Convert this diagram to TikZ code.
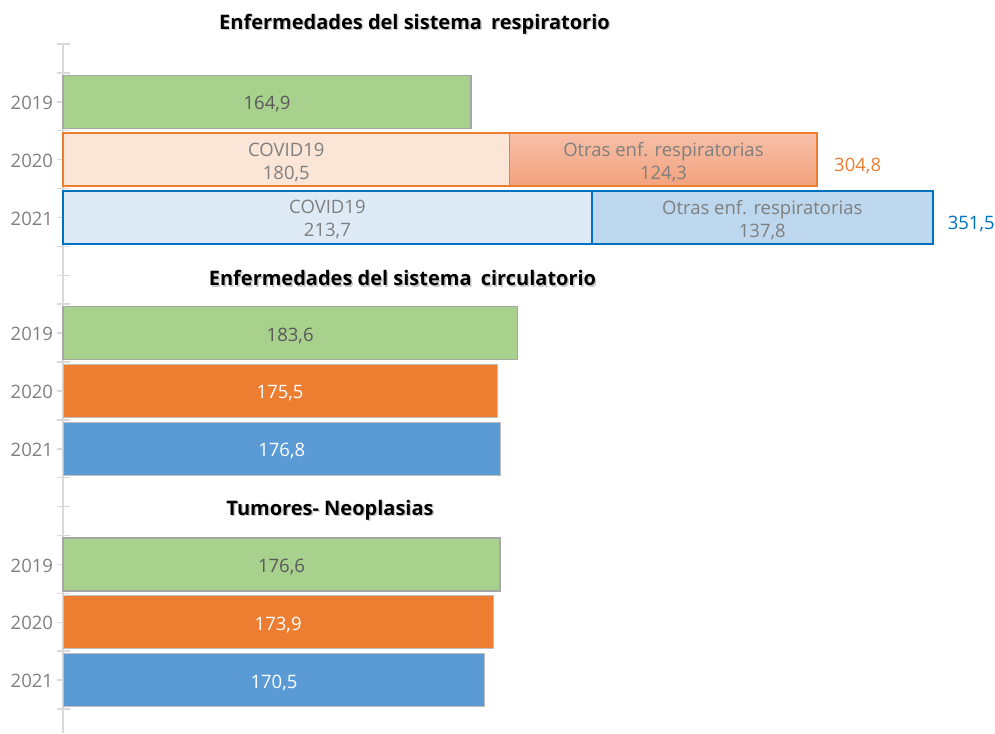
\documentclass[tikz,border=0pt]{standalone}
\usepackage{fontspec}
\setmainfont{Open Sans}
\definecolor{cgreen}{HTML}{A9D18E}
\definecolor{corange}{HTML}{ED7D31}
\definecolor{cblue}{HTML}{5B9BD5}
\definecolor{lorange}{HTML}{FBE5D6}
\definecolor{lblue}{HTML}{DEEBF7}
\definecolor{mblue}{HTML}{BDD7EE}
\definecolor{dblue}{HTML}{0070C0}
\definecolor{salmontop}{HTML}{F6BFA8}
\definecolor{salmonbot}{HTML}{F3A27D}
\definecolor{axisgray}{HTML}{D9D9D9}
\definecolor{labgray}{HTML}{7F7F7F}
\definecolor{valgray}{HTML}{595959}
\definecolor{bargray}{HTML}{A6A6A6}
\definecolor{thingray}{HTML}{BFBFBF}
\begin{document}
\begin{tikzpicture}[x=1pt,y=-1pt,
  txt/.style={font=\fontsize{18.5}{23}\selectfont,inner sep=0pt,outer sep=0pt},
  bar/.style={rectangle,anchor=west,minimum height=53pt,inner sep=0pt,outer sep=0pt},
  greenbar/.style={bar,fill=cgreen,draw=bargray,line width=1.5pt},
  orangebar/.style={bar,fill=corange,draw=thingray,line width=1pt},
  bluebar/.style={bar,fill=cblue,draw=thingray,line width=1pt},
  covido/.style={bar,fill=lorange,draw=corange,line width=1.5pt},
  otraso/.style={bar,top color=salmontop,bottom color=salmonbot,draw=corange,line width=1.5pt},
  covidb/.style={bar,fill=lblue,draw=dblue,line width=1.5pt},
  otrasb/.style={bar,fill=mblue,draw=dblue,line width=1.5pt},
  darkval/.style={txt,text=valgray},
  whiteval/.style={txt,text=white},
  grayval/.style={txt,text=labgray,align=center},
  yearlab/.style={txt,anchor=east,text=labgray},
  title/.style={font=\fontsize{20}{24}\selectfont\bfseries,inner sep=0pt},
  shadowt/.style={title,text=black!20},
  axisline/.style={draw=axisgray,line width=1.8pt},
  tickline/.style={draw=axisgray,line width=1.5pt}
]
\useasboundingbox (0,0) rectangle (995,733);
% axis
\coordinate (axtop) at (63,44);
\coordinate (axbot) at (63,733);
\draw[axisline] (axtop) -- (axbot);
\foreach \i in {0,...,23}{
  \draw[tickline] (57,{44+28.913*\i}) -- (70,{44+28.913*\i});
}
% titles
\node[shadowt] at (416,25.5) {Enfermedades del sistema\hspace{0.2em} respiratorio};
\node[title] (t1) at (414.5,24) {Enfermedades del sistema\hspace{0.2em} respiratorio};
\node[shadowt] at (404,279.5) {Enfermedades del sistema\hspace{0.2em} circulatorio};
\node[title] (t2) at (402.5,278) {Enfermedades del sistema\hspace{0.2em} circulatorio};
\node[shadowt] at (331.5,511.5) {Tumores- Neoplasias};
\node[title] (t3) at (330,510) {Tumores- Neoplasias};
% year labels
\foreach \y/\lab/\n in {101.83/2019/a,159.65/2020/b,217.48/2021/c,333.13/2019/d,390.96/2020/e,448.78/2021/f,564.43/2019/g,622.26/2020/h,680.09/2021/i}{
  \node[yearlab] (y\n) at (53,\y+1) {\lab};
}
% respiratorio
\node[greenbar,minimum width=408.05pt] (r19) at (63,101.83) {};
\node[darkval] (v19) at ([yshift=-2.5pt]r19.center) {164,9};
\node[covido,minimum width=446.65pt] (r20a) at (63,159.65) {};
\node[otraso,minimum width=307.58pt] (r20b) at (r20a.east) {};
\node[grayval] (v20a) at ([yshift=-2.5pt]r20a.center) {COVID19\\180,5};
\node[grayval] (v20b) at ([yshift=-2.5pt]r20b.center) {Otras enf. respiratorias\\124,3};
\node[txt,anchor=west,text=corange] (r20t) at ([xshift=17pt,yshift=-6.5pt]r20b.east) {304,8};
\node[covidb,minimum width=528.8pt] (r21a) at (63,217.48) {};
\node[otrasb,minimum width=340.99pt] (r21b) at (r21a.east) {};
\node[grayval] (v21a) at ([yshift=-2.5pt]r21a.center) {COVID19\\213,7};
\node[grayval] (v21b) at ([yshift=-2.5pt]r21b.center) {Otras enf. respiratorias\\137,8};
\node[txt,anchor=west,text=dblue] (r21t) at ([xshift=15pt,yshift=-6.5pt]r21b.east) {351,5};
% circulatorio
\node[greenbar,minimum width=454.32pt] (c19) at (63,333.13) {};
\node[darkval] at ([yshift=-2.5pt]c19.center) {183,6};
\node[orangebar,minimum width=434.27pt] (c20) at (63,390.96) {};
\node[whiteval] at ([yshift=-2.5pt]c20.center) {175,5};
\node[bluebar,minimum width=437.49pt] (c21) at (63,448.78) {};
\node[whiteval] at ([yshift=-2.5pt]c21.center) {176,8};
% tumores
\node[greenbar,minimum width=437.0pt] (n19) at (63,564.43) {};
\node[darkval] at ([yshift=-2.5pt]n19.center) {176,6};
\node[orangebar,minimum width=430.32pt] (n20) at (63,622.26) {};
\node[whiteval] at ([yshift=-2.5pt]n20.center) {173,9};
\node[bluebar,minimum width=421.9pt] (n21) at (63,680.09) {};
\node[whiteval] at ([yshift=-2.5pt]n21.center) {170,5};
\end{tikzpicture}
\end{document}
